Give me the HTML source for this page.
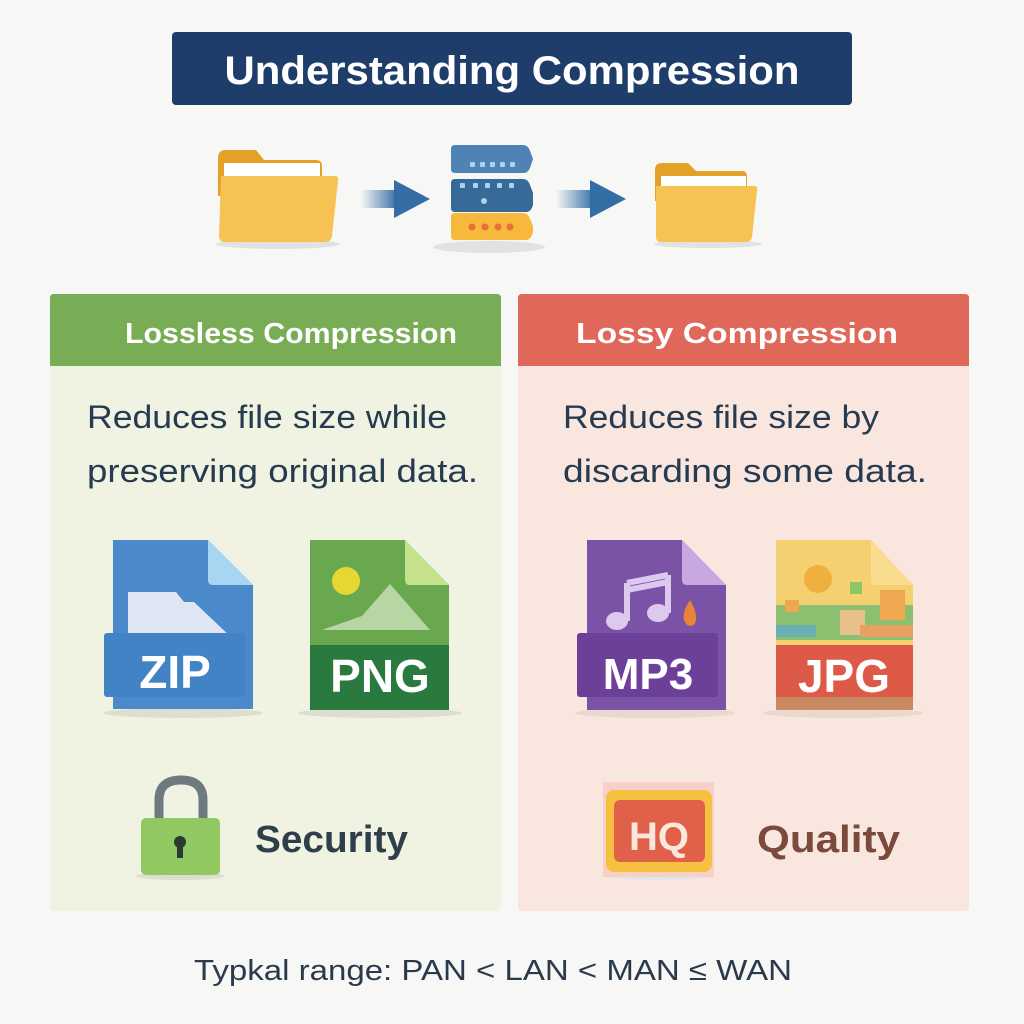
<!DOCTYPE html>
<html><head><meta charset="utf-8"><style>
html,body{margin:0;padding:0;background:#f7f7f6;}
svg{display:block}
text{font-family:"Liberation Sans",sans-serif;}
</style></head><body>
<svg width="1024" height="1024" viewBox="0 0 1024 1024" xmlns="http://www.w3.org/2000/svg">
<defs>
<linearGradient id="fade" x1="0" x2="1"><stop offset="0" stop-color="#3c73aa" stop-opacity="0"/><stop offset="1" stop-color="#3c73aa"/></linearGradient>
</defs>
<rect width="1024" height="1024" fill="#f7f7f6"/>

<!-- title -->
<rect x="172" y="32" width="680" height="73" rx="4" fill="#1e3d6b"/>
<text x="512" y="84" text-anchor="middle" font-size="40" font-weight="bold" fill="#fff" textLength="575" lengthAdjust="spacingAndGlyphs">Understanding Compression</text>

<!-- folder 1 -->
<ellipse cx="278" cy="244" rx="62" ry="5" fill="#e2e2e2"/>
<path d="M218 158 q0-8 8-8 h30 l8 10 h52 q6 0 6 6 v30 h-104z" fill="#e3a127"/>
<rect x="224" y="163" width="96" height="30" fill="#fff"/>
<path d="M221 176 h114 q4 0 3 5 l-6 55 q-1 6 -7 6 h-100 q-6 0-6-6z" fill="#f6c253"/>
<!-- arrow 1 -->
<rect x="361" y="190" width="35" height="18" fill="url(#fade)"/>
<path d="M394 180 l36 19 l-36 19z" fill="#346ca4"/>
<!-- server -->
<ellipse cx="489" cy="247" rx="56" ry="6" fill="#e2e2e2"/>
<path d="M455 145 h68 q5 0 7 6 l3 8 l-3 9 q-2 5 -7 5 h-68 q-4 0-4-4 v-20 q0-4 4-4z" fill="#4f82b5"/>
<g fill="#a9d3ee"><rect x="470" y="162" width="5" height="5" rx="1"/><rect x="480" y="162" width="5" height="5" rx="1"/><rect x="490" y="162" width="5" height="5" rx="1"/><rect x="500" y="162" width="5" height="5" rx="1"/><rect x="510" y="162" width="5" height="5" rx="1"/></g>
<path d="M455 179 h68 q5 0 7 6 l3 8 v12 q-2 7 -7 7 h-71 q-4 0-4-4 v-25 q0-4 4-4z" fill="#376a98"/>
<g fill="#a9d3ee"><rect x="460" y="183" width="5" height="5" rx="1"/><rect x="473" y="183" width="5" height="5" rx="1"/><rect x="485" y="183" width="5" height="5" rx="1"/><rect x="497" y="183" width="5" height="5" rx="1"/><rect x="509" y="183" width="5" height="5" rx="1"/><circle cx="484" cy="201" r="3"/></g>
<path d="M455 213 h68 q5 0 7 6 l3 7 v6 q-2 8 -7 8 h-71 q-4 0-4-4 v-19 q0-4 4-4z" fill="#f6b93b"/>
<g fill="#e8703a"><circle cx="472" cy="227" r="3.5"/><circle cx="485" cy="227" r="3.5"/><circle cx="498" cy="227" r="3.5"/><circle cx="510" cy="227" r="3.5"/></g>
<!-- arrow 2 -->
<rect x="556" y="190" width="37" height="18" fill="url(#fade)"/>
<path d="M590 180 l36 19 l-36 19z" fill="#346ca4"/>
<!-- folder 2 -->
<ellipse cx="708" cy="244" rx="54" ry="4" fill="#e2e2e2"/>
<path d="M655 170 q0-7 7-7 h26 l8 8 h46 q5 0 5 5 v25 h-92z" fill="#e3a127"/>
<rect x="661" y="176" width="85" height="20" fill="#fff"/>
<path d="M656 186 h98 q4 0 3 5 l-5 46 q-1 5 -6 5 h-85 q-5 0-5-5z" fill="#f6c253"/>

<!-- left panel -->
<rect x="50" y="294" width="451" height="617" rx="4" fill="#f0f3e2"/>
<path d="M50 366 v-68 q0-4 4-4 h443 q4 0 4 4 v68z" fill="#78ad55"/>
<text x="291" y="343" text-anchor="middle" font-size="29" font-weight="bold" fill="#fff" textLength="332" lengthAdjust="spacingAndGlyphs">Lossless Compression</text>
<text x="87" y="428" font-size="32" fill="#263b50" textLength="360" lengthAdjust="spacingAndGlyphs">Reduces file size while</text>
<text x="87" y="482" font-size="32" fill="#263b50" textLength="391" lengthAdjust="spacingAndGlyphs">preserving original data.</text>

<!-- right panel -->
<rect x="518" y="294" width="451" height="617" rx="4" fill="#f9e6df"/>
<path d="M518 366 v-68 q0-4 4-4 h443 q4 0 4 4 v68z" fill="#e0685a"/>
<text x="737" y="343" text-anchor="middle" font-size="29" font-weight="bold" fill="#fff" textLength="322" lengthAdjust="spacingAndGlyphs">Lossy Compression</text>
<text x="563" y="428" font-size="32" fill="#263b50" textLength="316" lengthAdjust="spacingAndGlyphs">Reduces file size by</text>
<text x="563" y="482" font-size="32" fill="#263b50" textLength="364" lengthAdjust="spacingAndGlyphs">discarding some data.</text>

<!-- ZIP -->
<ellipse cx="183" cy="713" rx="80" ry="5" fill="#dcdfd0"/>
<path d="M113 540 h95 l45 45 v124 h-140z" fill="#4a8acb"/>
<path d="M208 540 l45 45 h-40 q-5 0 -5 -5z" fill="#a8d6f2"/>
<path d="M128 592 h48 l8 10 h10 l38 36 h-104z" fill="#dde6f2"/>
<rect x="104" y="633" width="141" height="64" rx="3" fill="#4283c6"/>
<text x="175" y="688" text-anchor="middle" font-size="46" font-weight="bold" fill="#fff">ZIP</text>

<!-- PNG -->
<ellipse cx="380" cy="713" rx="82" ry="5" fill="#dcdfd0"/>
<path d="M310 540 h95 l44 45 v125 h-139z" fill="#6aa84f"/>
<path d="M405 540 l44 45 h-39 q-5 0 -5 -5z" fill="#c4e28c"/>
<circle cx="346" cy="581" r="14" fill="#e6d830"/>
<path d="M322 630 l40 -14 l28 -32 l40 46z" fill="#b8d6a4"/>
<rect x="310" y="645" width="139" height="65" fill="#2a7a40"/>
<text x="380" y="692" text-anchor="middle" font-size="46" font-weight="bold" fill="#fff">PNG</text>

<!-- MP3 -->
<ellipse cx="655" cy="713" rx="80" ry="5" fill="#e8d8d0"/>
<path d="M587 540 h95 l44 45 v125 h-139z" fill="#7a52a6"/>
<path d="M682 540 l44 45 h-39 q-5 0 -5 -5z" fill="#c8a8e0"/>
<path d="M627 583 v38 M668 575 v38 M627 583 l41 -8 M627 590 l41 -8" stroke="#ddc8ee" stroke-width="6" fill="none"/>
<ellipse cx="617" cy="621" rx="11" ry="9" fill="#ddc8ee"/>
<ellipse cx="658" cy="613" rx="11" ry="9" fill="#ddc8ee"/>
<path d="M690 600 q-8 12 -6 20 q2 6 6 6 q5 0 6 -6 q1 -8 -6 -20z" fill="#e8843a"/>
<rect x="577" y="633" width="141" height="64" rx="3" fill="#6c3f99"/>
<text x="648" y="689" text-anchor="middle" font-size="44" font-weight="bold" fill="#fff">MP3</text>

<!-- JPG -->
<ellipse cx="843" cy="713" rx="80" ry="5" fill="#e8d8d0"/>
<path d="M776 540 h95 l42 45 v125 h-137z" fill="#f5d070"/>
<path d="M871 540 l42 45 h-38 q-4 0 -4 -5z" fill="#f9dc90"/>
<circle cx="818" cy="579" r="14" fill="#f0b040"/>
<g>
<rect x="776" y="605" width="137" height="35" fill="#8cc070"/>
<rect x="785" y="600" width="14" height="12" fill="#f0a850"/>
<rect x="850" y="582" width="12" height="12" fill="#8cc86a"/>
<rect x="840" y="610" width="25" height="25" fill="#e8c08a"/>
<rect x="880" y="590" width="25" height="30" fill="#f0a850"/>
<rect x="776" y="625" width="40" height="12" fill="#6ab0b0"/>
<rect x="860" y="625" width="53" height="12" fill="#e8a060"/>
</g>
<rect x="776" y="645" width="137" height="65" fill="#dd5a48"/>
<rect x="776" y="697" width="137" height="13" fill="#c88a60"/>
<text x="844" y="692" text-anchor="middle" font-size="46" font-weight="bold" fill="#fff">JPG</text>

<!-- lock -->
<ellipse cx="180" cy="876" rx="45" ry="4" fill="#dcdfd0"/>
<path d="M159 818 v-18 q0-20 22-20 q22 0 22 20 v18" stroke="#6f7a80" stroke-width="9" fill="none"/>
<rect x="141" y="818" width="79" height="57" rx="5" fill="#92c862"/>
<circle cx="180" cy="842" r="6" fill="#2b3a30"/>
<rect x="177" y="844" width="6" height="14" fill="#2b3a30"/>
<text x="255" y="852" font-size="38" font-weight="bold" fill="#2e3e4a" textLength="153" lengthAdjust="spacingAndGlyphs">Security</text>

<!-- HQ -->
<ellipse cx="659" cy="875" rx="55" ry="5" fill="#dde6e8"/>
<rect x="603" y="782" width="111" height="95" fill="#f7d0c8"/>
<rect x="606" y="790" width="106" height="82" rx="8" fill="#f6c040"/>
<rect x="614" y="800" width="91" height="62" rx="6" fill="#e0604a"/>
<text x="659" y="850" text-anchor="middle" font-size="40" font-weight="bold" fill="#fbe8dc">HQ</text>
<text x="757" y="852" font-size="38" font-weight="bold" fill="#7a4a3c" textLength="143" lengthAdjust="spacingAndGlyphs">Quality</text>

<!-- footer -->
<text x="493" y="980" text-anchor="middle" font-size="29" fill="#2b3a4a" textLength="598" lengthAdjust="spacingAndGlyphs">Typkal range: PAN &lt; LAN &lt; MAN ≤ WAN</text>
</svg>
</body></html>
